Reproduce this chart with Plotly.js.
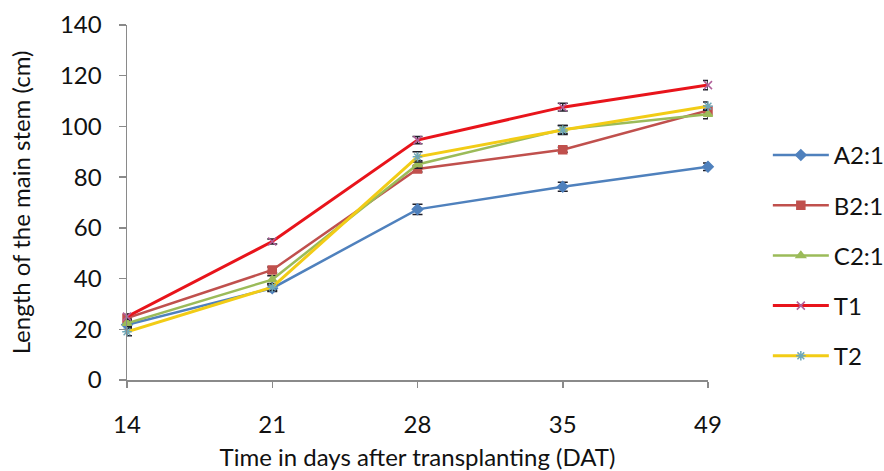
<!DOCTYPE html>
<html>
<head>
<meta charset="utf-8">
<script src="https://cdn.plot.ly/plotly-3.0.1.min.js"></script>
<style>
  html, body { margin: 0; padding: 0; background: #fff; }
  #chart { width: 884px; height: 471px; }
</style>
</head>
<body>
<div id="chart"></div>
<script>
// Days after transplanting (category labels)
const days = ['14', '21', '28', '35', '49'];
const seriesNames = ['A2:1', 'B2:1', 'C2:1', 'T1', 'T2'];

// Length of the main stem (cm)
const a21 = [21.8, 36.2, 67.3, 76.2, 84.1];
const b21 = [24.4, 43.4, 83.2, 90.8, 106.3];
const c21 = [22.4, 39.6, 85.0, 98.8, 104.8];
const t1  = [25.0, 54.6, 94.6, 107.6, 116.3];
const t2  = [19.0, 36.6, 88.0, 98.6, 108.0];

// Error bar half-lengths (cm)
const a21Err = [1.2, 1.3, 2.0, 1.8, 1.5];
const b21Err = [1.0, 1.2, 1.2, 1.0, 1.8];
const c21Err = [1.2, 1.5, 1.5, 1.6, 1.8];
const t1Err  = [1.0, 1.0, 1.4, 1.5, 1.8];
const t2Err  = [1.5, 1.3, 2.0, 1.8, 1.6];

const values = [a21, b21, c21, t1, t2];
const errors = [a21Err, b21Err, c21Err, t1Err, t2Err];

const lineColors = ['#4F81BD', '#C0504D', '#9BBB59', '#E8141B', '#F2CC16'];
const markerColors = ['#4F81BD', '#C0504D', '#9BBB59', '#B0609A', '#6FA8B8'];
const markerSymbols = ['diamond', 'square', 'triangle-up', 'x-thin-open', 'asterisk-open'];
const lineWidths = [2.5, 2.5, 2.5, 3, 3];

const FONT = 'Lato, "Open Sans", sans-serif';
const FS = 24;

const traces = seriesNames.map((name, i) => ({
  type: 'scatter',
  mode: 'lines+markers',
  name: name,
  x: days,
  y: values[i],
  legendgroup: 'g' + i,
  line: { color: lineColors[i], width: lineWidths[i] },
  marker: {
    symbol: markerSymbols[i],
    size: 8,
    color: markerColors[i],
    line: { color: markerColors[i], width: 1.5 }
  },
  error_y: {
    type: 'data',
    array: errors[i],
    visible: true,
    color: '#1f1f2a',
    thickness: 1.5,
    width: 5
  },
  cliponaxis: false
}));

const layout = {
  width: 884,
  height: 471,
  paper_bgcolor: '#ffffff',
  plot_bgcolor: '#ffffff',
  font: { family: FONT, size: FS, color: '#111111' },
  margin: { l: 127, r: 176, t: 25, b: 91, autoexpand: false },
  showlegend: true,
  legend: {
    x: 1.103, xanchor: 'left',
    y: 0.351, yanchor: 'middle',
    font: { family: FONT, size: FS, color: '#111111' },
    tracegroupgap: 16,
    traceorder: 'grouped',
    itemwidth: 56,
    bgcolor: 'rgba(0,0,0,0)'
  },
  xaxis: {
    type: 'category',
    range: [0, 4],
    showgrid: false,
    zeroline: false,
    showline: true,
    linecolor: '#8a8a8a',
    linewidth: 1.5,
    ticks: 'outside',
    ticklen: 6,
    tickcolor: '#8a8a8a',
    tickwidth: 1.5,
    ticklabelstandoff: 17,
    tickfont: { family: FONT, size: FS, color: '#111111' },
    title: { text: 'Time in days after transplanting (DAT)', font: { family: FONT, size: FS, color: '#111111' }, standoff: 18 }
  },
  yaxis: {
    range: [0, 140],
    tickvals: [0, 20, 40, 60, 80, 100, 120, 140],
    showgrid: false,
    zeroline: false,
    showline: true,
    linecolor: '#8a8a8a',
    linewidth: 1.5,
    ticks: 'outside',
    ticklen: 7,
    tickcolor: '#8a8a8a',
    tickwidth: 1.5,
    tickfont: { family: FONT, size: FS, color: '#111111' },
    ticklabelstandoff: 12,
    title: { text: 'Length of the main stem (cm)', font: { family: FONT, size: 24, color: '#111111' }, standoff: 22 }
  }
};

Plotly.newPlot('chart', traces, layout, { displayModeBar: false, staticPlot: true });
</script>
</body>
</html>
